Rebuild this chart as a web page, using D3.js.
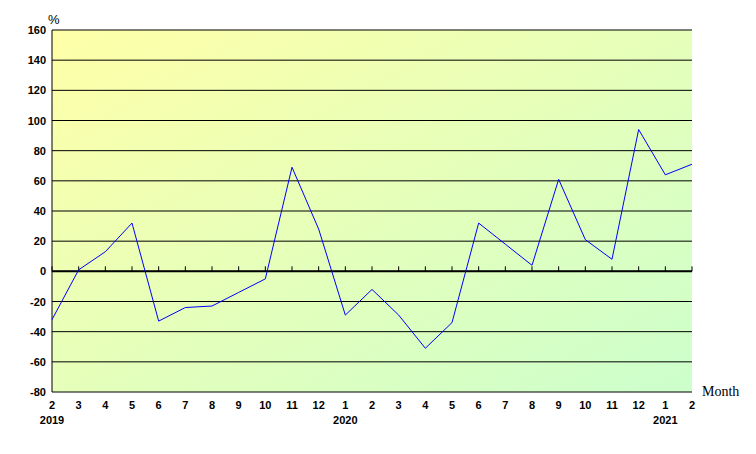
<!DOCTYPE html>
<html><head><meta charset="utf-8">
<script src="https://cdn.jsdelivr.net/npm/d3@7"></script>
<style>body{margin:0;background:#fff}</style>
</head><body>
<svg id="c" width="756" height="454"></svg>
<script>
var months = ['2','3','4','5','6','7','8','9','10','11','12','1','2','3','4','5','6','7','8','9','10','11','12','1','2']
var years = {0: '2019', 11: '2020', 23: '2021'}
var values = [-32, 1, 13, 32, -33, -24, -23, -14, -5, 69, 28, -29, -12, -29, -51, -34, 32, 18, 4, 61, 21, 8, 94, 64, 71]
var yTicks = [-80, -60, -40, -20, 0, 20, 40, 60, 80, 100, 120, 140, 160]

var margin = {top: 30, left: 52}
var width = 640, height = 362
var svg = d3.select('#c')
var defs = svg.append('defs')
var grad = defs.append('linearGradient').attr('id', 'bg')
  .attr('x1', '0').attr('y1', '0').attr('x2', '1').attr('y2', '1')
grad.append('stop').attr('offset', '0').attr('stop-color', '#ffffa8')
grad.append('stop').attr('offset', '1').attr('stop-color', '#ccffcc')

var g = svg.append('g').attr('transform', 'translate(' + margin.left + ',' + margin.top + ')')
var x = d3.scaleLinear().domain([0, months.length - 1]).range([0, width])
var y = d3.scaleLinear().domain([-80, 160]).range([height, 0])

g.append('rect').attr('width', width).attr('height', height).attr('fill', 'url(#bg)')

g.selectAll('.grid').data(yTicks).enter().append('line')
  .attr('x1', 0).attr('x2', width)
  .attr('y1', function (d) { return y(d) }).attr('y2', function (d) { return y(d) })
  .attr('stroke', '#000').attr('stroke-width', 1)

g.append('line').attr('x1', 0).attr('x2', 0).attr('y1', 0).attr('y2', height).attr('stroke', '#000')
g.append('line').attr('x1', 0).attr('x2', width).attr('y1', y(0)).attr('y2', y(0)).attr('stroke', '#000').attr('stroke-width', 2)

g.selectAll('.tk').data(months).enter().append('line')
  .attr('x1', function (d, i) { return x(i) }).attr('x2', function (d, i) { return x(i) })
  .attr('y1', y(0)).attr('y2', y(0) - 5).attr('stroke', '#000')

g.selectAll('.yl').data(yTicks).enter().append('text')
  .attr('x', -6).attr('y', function (d) { return y(d) + 4 })
  .attr('text-anchor', 'end').attr('font-family', 'Liberation Sans, Arial').attr('font-size', 11).attr('font-weight', 'bold')
  .text(function (d) { return d })

g.selectAll('.xl').data(months).enter().append('text')
  .attr('x', function (d, i) { return x(i) }).attr('y', height + 17)
  .attr('text-anchor', 'middle').attr('font-family', 'Liberation Sans, Arial').attr('font-size', 11).attr('font-weight', 'bold')
  .text(function (d) { return d })

Object.keys(years).forEach(function (k) {
  g.append('text').attr('x', x(+k)).attr('y', height + 32)
    .attr('text-anchor', 'middle').attr('font-family', 'Liberation Sans, Arial').attr('font-size', 11).attr('font-weight', 'bold')
    .text(years[k])
})

g.append('text').attr('x', -4).attr('y', -6).attr('font-family', 'Liberation Sans, Arial').attr('font-size', 13).text('%')
g.append('text').attr('x', width + 10).attr('y', height + 4).attr('font-family', 'Liberation Serif, Times New Roman').attr('font-size', 14).text('Month')

var line = d3.line().x(function (d, i) { return x(i) }).y(function (d) { return y(d) })
g.append('path').datum(values).attr('d', line).attr('fill', 'none').attr('stroke', '#0000ff').attr('stroke-width', 1)
</script>
</body></html>
